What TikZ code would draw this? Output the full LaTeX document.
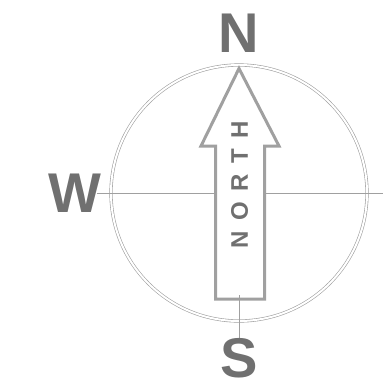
\documentclass[tikz,border=0pt]{standalone}
\usepackage{fontspec}
\setmainfont{Liberation Sans}
\usetikzlibrary{positioning}
\definecolor{LetterGray}{RGB}{112,112,112}
\definecolor{ArrowGray}{RGB}{160,160,160}
\definecolor{RingGray}{RGB}{160,160,160}
\tikzset{
  bigletter/.style={text=LetterGray,font=\bfseries\fontsize{56}{56}\selectfont,inner sep=0pt},
  smallletter/.style={text=LetterGray,font=\bfseries\fontsize{24}{24}\selectfont\addfontfeature{LetterSpace=44},inner sep=0pt},
  thinline/.style={RingGray,line width=0.6pt}
}
\begin{document}
\begin{tikzpicture}[x=1pt,y=-1pt]
\useasboundingbox (0,0) rectangle (383,392);
\coordinate (c) at (239,193);
% ring and cross
\draw[thinline,double=white,double distance=2pt] (c) circle (128pt);
\coordinate (wend) at (97,193);
\coordinate (eend) at (383,193);
\draw[thinline] (wend)--(eend);
% arrow
\draw[ArrowGray,line width=3pt,fill=white,line join=miter]
  (239,68.5)--(279,146)--(264.5,146)--(264.5,299)--(215.5,299)--(215.5,146)--(201,146)--cycle;
\coordinate (stop) at (239,295);
\coordinate (sbot) at (239,338);
\draw[thinline] (stop)--(sbot);
% letters
\node[bigletter] (n) at (239,33) {N};
\node[bigletter] (w) at (75,193) {W};
\node[bigletter] (s) at (239,358) {S};
\node[smallletter,rotate=90] (north) at (239.5,185) {NORTH};
\end{tikzpicture}
\end{document}
